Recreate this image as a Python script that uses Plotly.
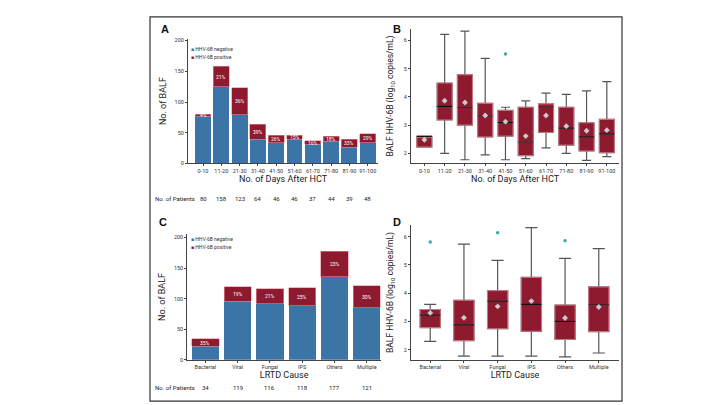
import plotly.graph_objects as go

# ---------------- data ----------------
days = ["0-10", "11-20", "21-30", "31-40", "41-50", "51-60", "61-70", "71-80", "81-90", "91-100"]
days_neg = [77, 125, 79, 39, 34, 39, 31, 36, 26, 34]
days_pos = [3, 33, 44, 25, 12, 7, 6, 8, 13, 14]
days_pct = ["4%", "21%", "36%", "39%", "26%", "15%", "16%", "18%", "33%", "29%"]
days_patients = [80, 158, 123, 64, 46, 46, 37, 44, 39, 48]

causes = ["Bacterial", "Viral", "Fungal", "IPS", "Others", "Multiple"]
cause_neg = [22, 96, 92, 88, 136, 85]
cause_pos = [12, 23, 24, 30, 41, 36]
cause_pct = ["35%", "19%", "21%", "25%", "23%", "30%"]
cause_patients = [34, 119, 116, 118, 177, 121]

# box statistics, panel B (log10 copies/mL)
b_low = [2.22, 2.00, 1.77, 1.94, 1.77, 1.81, 2.19, 2.00, 1.75, 1.88]
b_q1 = [2.22, 3.18, 3.00, 2.58, 2.61, 1.92, 2.74, 2.29, 2.08, 2.02]
b_med = [2.60, 3.66, 3.63, 3.32, 3.09, 2.40, 3.64, 2.89, 2.58, 2.69]
b_q3 = [2.60, 4.49, 4.78, 3.77, 3.52, 3.63, 3.75, 3.63, 3.08, 3.20]
b_high = [2.60, 6.21, 6.33, 5.36, 3.63, 3.86, 4.13, 4.09, 4.21, 4.54]
b_mean = [2.48, 3.86, 3.80, 3.34, 3.12, 2.61, 3.34, 2.96, 2.80, 2.82]
b_out_x = ["41-50"]
b_out_y = [5.52]

# box statistics, panel D
d_low = [2.29, 1.77, 1.77, 1.77, 1.74, 1.88]
d_q1 = [2.78, 2.32, 2.74, 2.65, 2.36, 2.64]
d_med = [3.22, 2.88, 3.72, 3.60, 3.00, 3.59]
d_q3 = [3.42, 3.75, 4.09, 4.56, 3.58, 4.22]
d_high = [3.60, 5.74, 5.16, 6.32, 5.23, 5.58]
d_mean = [3.30, 3.13, 3.53, 3.72, 3.12, 3.51]
d_out_x = ["Bacterial", "Fungal", "Others"]
d_out_y = [5.81, 6.14, 5.86]

# ---------------- style ----------------
BLUE = "#3b74a6"
RED = "#8e1a2f"
PINK = "#e38a97"
GREY = "#555555"
FONT = "Liberation Sans Narrow, Roboto, Arial, sans-serif"
AX = "#444444"

fig = go.Figure()

def py(ypx):
    return 1 - ypx / 405.0

def px(xpx):
    return xpx / 720.0

# Panel A bars
fig.add_trace(go.Bar(x=days, y=days_neg, marker=dict(color=BLUE, line=dict(width=0)),
                     xaxis="x", yaxis="y", width=0.87, showlegend=False))
fig.add_trace(go.Bar(x=days, y=days_pos, marker=dict(color=RED, line=dict(color=PINK, width=0.6)),
                     xaxis="x", yaxis="y", width=0.87, showlegend=False))
# Panel C bars
fig.add_trace(go.Bar(x=causes, y=cause_neg, marker=dict(color=BLUE, line=dict(width=0)),
                     xaxis="x3", yaxis="y3", width=0.845, showlegend=False))
fig.add_trace(go.Bar(x=causes, y=cause_pos, marker=dict(color=RED, line=dict(color=PINK, width=0.6)),
                     xaxis="x3", yaxis="y3", width=0.845, showlegend=False))

def add_boxes(cats, low, q1, med, q3, high, mean, ox, oy, xa, ya, w):
    # whiskers (grey)
    fig.add_trace(go.Box(x=cats, lowerfence=low, q1=q1, median=med, q3=q3, upperfence=high,
                         fillcolor=RED, line=dict(color=GREY, width=1.2), whiskerwidth=0.6,
                         width=w, xaxis=xa, yaxis=ya, showlegend=False, boxpoints=False))
    # box body
    fig.add_trace(go.Box(x=cats, lowerfence=q1, q1=q1, median=med, q3=q3, upperfence=q3,
                         fillcolor=RED, line=dict(color=PINK, width=0.8), whiskerwidth=0,
                         width=w, xaxis=xa, yaxis=ya, showlegend=False, boxpoints=False))
    # median line (black)
    fig.add_trace(go.Box(x=cats, lowerfence=med, q1=med, median=med, q3=med, upperfence=med,
                         fillcolor=RED, line=dict(color="#111111", width=1.2), whiskerwidth=0,
                         width=w, xaxis=xa, yaxis=ya, showlegend=False, boxpoints=False))
    # means
    fig.add_trace(go.Scatter(x=cats, y=mean, mode="markers",
                             marker=dict(symbol="diamond", color="#c9c9c9", size=4.5, line=dict(width=0)),
                             xaxis=xa, yaxis=ya, showlegend=False))
    # outliers
    fig.add_trace(go.Scatter(x=ox, y=oy, mode="markers",
                             marker=dict(symbol="circle", color="#3fa9a3", size=3.5, line=dict(width=0)),
                             xaxis=xa, yaxis=ya, showlegend=False))

add_boxes(days, b_low, b_q1, b_med, b_q3, b_high, b_mean, b_out_x, b_out_y, "x2", "y2", 0.74)
add_boxes(causes, d_low, d_q1, d_med, d_q3, d_high, d_mean, d_out_x, d_out_y, "x4", "y4", 0.6)

ann = []
# percentage labels inside positive segments
for c, n, p, t in zip(days, days_neg, days_pos, days_pct):
    ann.append(dict(x=c, y=n + p / 2, xref="x", yref="y", text=t, showarrow=False,
                    font=dict(family=FONT, size=5, color="white")))
for c, n, p, t in zip(causes, cause_neg, cause_pos, cause_pct):
    ann.append(dict(x=c, y=n + p / 2, xref="x3", yref="y3", text=t, showarrow=False,
                    font=dict(family=FONT, size=5, color="white")))
# patient counts
for c, n in zip(days, days_patients):
    ann.append(dict(x=c, y=py(191), xref="x", yref="paper", text=str(n), showarrow=False,
                    font=dict(family=FONT, size=6, color="#222")))
for c, n in zip(causes, cause_patients):
    ann.append(dict(x=c, y=py(388), xref="x3", yref="paper", text=str(n), showarrow=False,
                    font=dict(family=FONT, size=6, color="#222")))
ann.append(dict(x=px(145), y=py(191), xref="paper", yref="paper", text="No. of Patients",
                xanchor="left", showarrow=False, font=dict(family=FONT, size=6, color="#222")))
ann.append(dict(x=px(145), y=py(388), xref="paper", yref="paper", text="No. of Patients",
                xanchor="left", showarrow=False, font=dict(family=FONT, size=6, color="#222")))
# panel letters
for letter, xx, yy in [("A", 151, 20), ("B", 383, 20), ("C", 149, 215), ("D", 383, 215)]:
    ann.append(dict(x=px(xx), y=py(yy), xref="paper", yref="paper", text="<b>%s</b>" % letter,
                    xanchor="left", yanchor="middle", showarrow=False,
                    font=dict(family="Liberation Sans, Arial", size=11, color="#111")))
# legends
for yy0 in (35, 232):
    ann.append(dict(x=px(181), y=py(yy0), xref="paper", yref="paper",
                    text="<span style='color:%s'>■</span> HHV-6B negative" % BLUE,
                    xanchor="left", showarrow=False, font=dict(family=FONT, size=5, color="#333")))
    ann.append(dict(x=px(181), y=py(yy0 + 8), xref="paper", yref="paper",
                    text="<span style='color:%s'>■</span> HHV-6B positive" % RED,
                    xanchor="left", showarrow=False, font=dict(family=FONT, size=5, color="#333")))

tickf = dict(family=FONT, size=5.5, color="#333")
titlef = dict(family=FONT, size=9, color="#222")

def xaxis(dom, rng, title, anchor):
    return dict(domain=dom, range=rng, type="category", anchor=anchor, showline=True, linecolor=AX,
                linewidth=1, ticks="outside", ticklen=2, tickcolor=AX, tickfont=tickf,
                showgrid=False, zeroline=False, title=dict(text=title, font=titlef, standoff=1))

def yaxis(dom, rng, title, anchor, dtick, standoff=4):
    return dict(domain=dom, range=rng, anchor=anchor, showline=True, linecolor=AX, linewidth=1,
                ticks="outside", ticklen=2, tickcolor=AX, tickfont=tickf, dtick=dtick,
                showgrid=False, zeroline=False, title=dict(text=title, font=titlef, standoff=standoff))

ylab = "BALF HHV-6B (log<sub>10</sub> copies/mL)"
fig.update_layout(
    width=720, height=405, margin=dict(l=0, r=0, t=0, b=0),
    paper_bgcolor="white", plot_bgcolor="white", barmode="stack", boxmode="overlay",
    showlegend=False,
    xaxis=xaxis([px(180), px(370)], [-0.82, 9.56], "No. of Days After HCT", "y"),
    yaxis=yaxis([py(156), py(30)], [0, 203], "No. of BALF", "x", 50, 6),
    xaxis2=xaxis([px(403), px(611)], [-0.66, 9.6], "No. of Days After HCT", "y2"),
    yaxis2=yaxis([py(155.7), py(20)], [1.65, 6.41], ylab, "x2", 1, 8),
    xaxis3=xaxis([px(179.3), px(373)], [-0.56, 5.44], "LRTD Cause", "y3"),
    yaxis3=yaxis([py(354.3), py(227.3)], [0, 205.5], "No. of BALF", "x3", 50, 6),
    xaxis4=xaxis([px(403), px(611)], [-0.57, 5.6], "LRTD Cause", "y4"),
    yaxis4=yaxis([py(354.3), py(218.3)], [1.64, 6.41], ylab, "x4", 1, 8),
    annotations=ann,
)
fig.update_layout(yaxis2_title_font_size=8.5, yaxis4_title_font_size=8.5)

# outer frame
fig.add_shape(type="rect", xref="paper", yref="paper", x0=px(142), x1=px(614), y0=py(396), y1=py(8),
              line=dict(color="#333333", width=1.2), fillcolor="rgba(0,0,0,0)", layer="above")

fig.write_html("out.html")
